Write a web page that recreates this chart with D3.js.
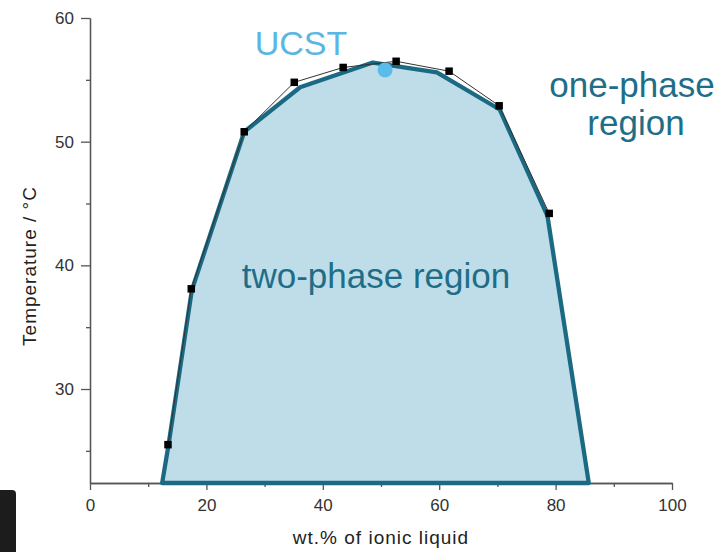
<!DOCTYPE html>
<html>
<head>
<meta charset="utf-8">
<script src="https://cdn.jsdelivr.net/npm/d3@7"></script>
<style>
  html, body { margin: 0; padding: 0; background: #fff; }
  svg { display: block; font-family: "Liberation Sans", Arial, sans-serif; }
</style>
</head>
<body>
<svg id="chart" width="725" height="552"></svg>
<script>
// Measured cloud points (wt.% ionic liquid vs. temperature)
const wtMeasured = [13.4, 17.4, 26.5, 35.1, 43.5, 52.6, 61.7, 70.3, 78.9];
const tMeasured  = [25.5, 38.1, 50.8, 54.8, 56.0, 56.5, 55.7, 52.9, 44.2];

// Phase boundary enclosing the two-phase region
const wtBoundary = [12.4, 13.5, 17.5, 26.5, 36.1, 48.6, 59.6, 70.4, 78.6, 85.7];
const tBoundary  = [22.4, 25.5, 38.0, 50.8, 54.4, 56.4, 55.6, 52.6, 44.0, 22.4];

// Upper critical solution temperature
const ucstWt = [50.7];
const ucstT  = [55.8];

// Axis ticks
const xMajorTicks = [0, 20, 40, 60, 80, 100];
const xMinorTicks = [10, 30, 50, 70, 90];
const yMajorTicks = [30, 40, 50, 60];
const yMinorTicks = [25, 35, 45, 55];

const svg = d3.select("#chart");

const x = d3.scaleLinear().domain([0, 100]).range([90, 672]);
const y = d3.scaleLinear().domain([22.4, 60]).range([483, 18]);

const axisColor = "#555";
const labelColor = "#333";

// Axes
function styleAxis(g) {
  g.selectAll("path.domain").attr("stroke", axisColor).attr("stroke-width", 1.3);
  g.selectAll(".tick line").attr("stroke", axisColor).attr("stroke-width", 1.3);
  g.selectAll(".tick text")
    .attr("fill", labelColor)
    .style("font-size", "17px")
    .style("font-family", "'Liberation Sans', Arial, sans-serif");
}

svg.append("g")
  .attr("transform", `translate(0,${y(22.4)})`)
  .call(d3.axisBottom(x).tickValues(xMinorTicks).tickSize(4).tickSizeOuter(0).tickFormat(""))
  .call(styleAxis);
svg.append("g")
  .attr("transform", `translate(0,${y(22.4)})`)
  .call(d3.axisBottom(x).tickValues(xMajorTicks).tickSize(7).tickSizeOuter(0).tickPadding(9))
  .call(styleAxis);

svg.append("g")
  .attr("transform", `translate(${x(0)},0)`)
  .call(d3.axisLeft(y).tickValues(yMinorTicks).tickSize(4).tickSizeOuter(0).tickFormat(""))
  .call(styleAxis);
svg.append("g")
  .attr("transform", `translate(${x(0)},0)`)
  .call(d3.axisLeft(y).tickValues(yMajorTicks).tickSize(9).tickSizeOuter(0).tickPadding(7))
  .call(styleAxis);

// Axis titles
svg.append("text")
  .attr("x", 381).attr("y", 544)
  .attr("text-anchor", "middle")
  .attr("fill", "#222")
  .style("font-size", "19px")
  .style("letter-spacing", "1px")
  .text("wt.% of ionic liquid");

svg.append("text")
  .attr("transform", "translate(36,266) rotate(-90)")
  .attr("text-anchor", "middle")
  .attr("fill", "#222")
  .style("font-size", "19px")
  .style("letter-spacing", "1px")
  .text("Temperature / °C");

// Two-phase region
const boundary = wtBoundary.map((w, i) => [w, tBoundary[i]]);
const area = d3.line().x(d => x(d[0])).y(d => y(d[1]));
svg.append("path")
  .attr("d", area(boundary) + "Z")
  .attr("fill", "#bfdde8")
  .attr("stroke", "#1b6a83")
  .attr("stroke-width", 4.3)
  .attr("stroke-linejoin", "round");

// Measured points and connecting line
const measured = wtMeasured.map((w, i) => [w, tMeasured[i]]);
svg.append("path")
  .attr("d", d3.line().x(d => x(d[0])).y(d => y(d[1]))(measured))
  .attr("fill", "none")
  .attr("stroke", "#333")
  .attr("stroke-width", 1);

const sq = 7.5;
svg.append("g").selectAll("rect")
  .data(measured)
  .join("rect")
  .attr("x", d => x(d[0]) - sq / 2)
  .attr("y", d => y(d[1]) - sq / 2)
  .attr("width", sq)
  .attr("height", sq)
  .attr("fill", "#000");

// UCST marker
svg.append("g").selectAll("circle")
  .data(ucstWt.map((w, i) => [w, ucstT[i]]))
  .join("circle")
  .attr("cx", d => x(d[0]))
  .attr("cy", d => y(d[1]))
  .attr("r", 7.5)
  .attr("fill", "#5bbbe9");

// Annotations
const teal = "#1e6e88";
svg.append("text")
  .attr("x", 301).attr("y", 55)
  .attr("text-anchor", "middle")
  .attr("fill", "#5ab6e2")
  .style("font-size", "34px")
  .text("UCST");

svg.append("text")
  .attr("x", 376).attr("y", 288)
  .attr("text-anchor", "middle")
  .attr("fill", teal)
  .style("font-size", "35px")
  .text("two-phase region");

svg.append("text")
  .attr("x", 632).attr("y", 97)
  .attr("text-anchor", "middle")
  .attr("fill", teal)
  .style("font-size", "35px")
  .text("one-phase");
svg.append("text")
  .attr("x", 636).attr("y", 135)
  .attr("text-anchor", "middle")
  .attr("fill", teal)
  .style("font-size", "35px")
  .text("region");

// Dark tab at the lower-left edge
svg.append("rect")
  .attr("x", -6).attr("y", 490)
  .attr("width", 22).attr("height", 70)
  .attr("rx", 4)
  .attr("fill", "#1c1c1c");
</script>
</body>
</html>
